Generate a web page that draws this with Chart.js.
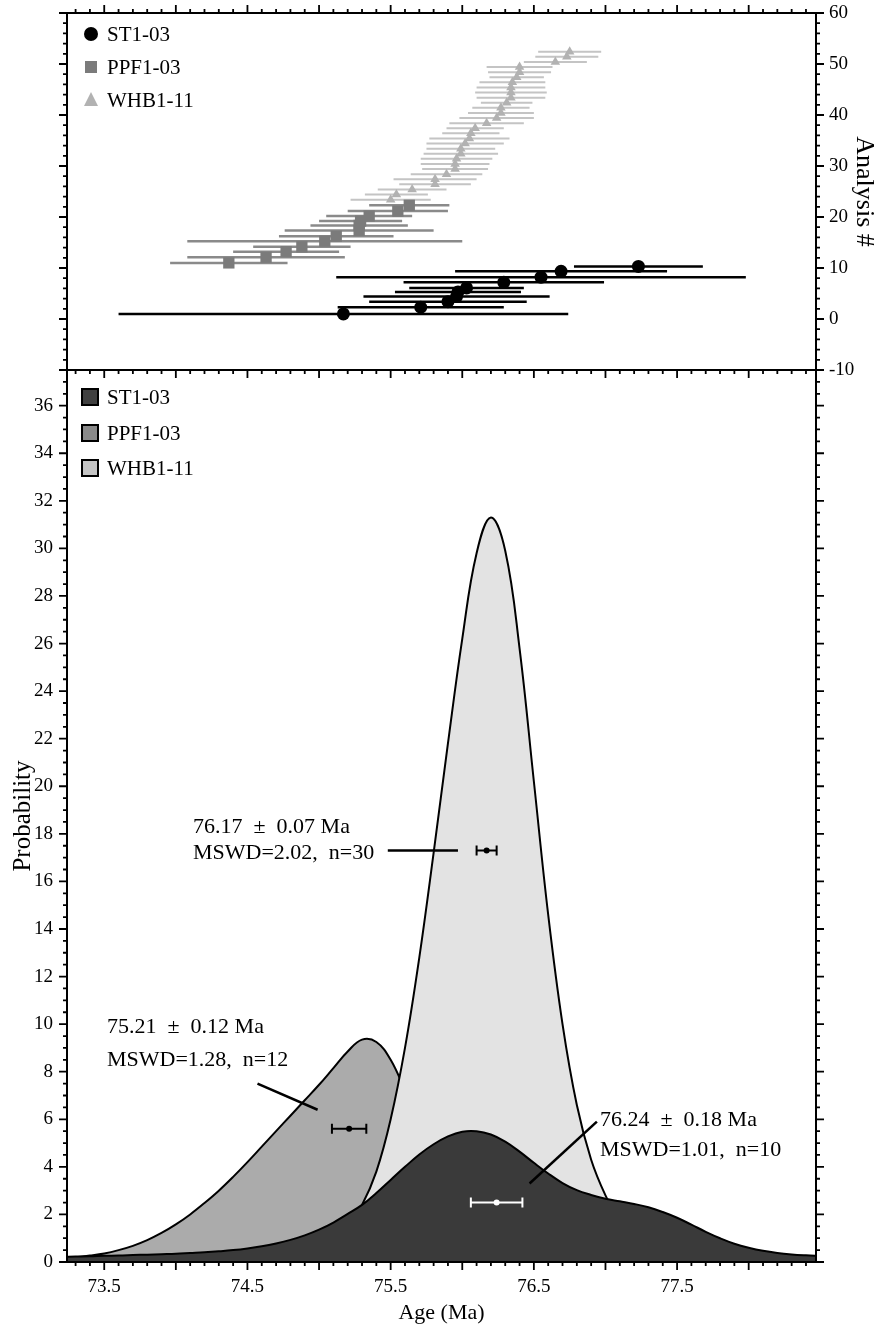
<!DOCTYPE html>
<html>
<head>
<meta charset="utf-8">
<script src="https://cdn.jsdelivr.net/npm/chart.js@4.4.1/dist/chart.umd.min.js"></script>
<style>
  html, body { margin: 0; padding: 0; background: #fff; }
  #wrap { position: relative; width: 879px; height: 1326px; overflow: hidden; }
  #top { position: absolute; left: 0; top: 0; }
  #bot { position: absolute; left: 0; top: 360px; }
</style>
</head>
<body>
<div id="wrap">
  <canvas id="top" width="879" height="382"></canvas>
  <canvas id="bot" width="879" height="966"></canvas>
</div>
<script>
// shared age axis (Ma)
const ageMin = 73.24, ageMax = 78.47;
const ageLabels = [73.5, 74.5, 75.5, 76.5, 77.5];
const analysisLabels = [-10, 0, 10, 20, 30, 40, 50, 60];
const probLabels = [0, 2, 4, 6, 8, 10, 12, 14, 16, 18, 20, 22, 24, 26, 28, 30, 32, 34, 36];
const samples = ['ST1-03', 'PPF1-03', 'WHB1-11'];

// top panel - single analyses (age, error, analysis #)
const stAge = [75.17, 75.71, 75.90, 75.96, 75.97, 76.03, 76.29, 76.55, 76.69, 77.23];
const stErr = [1.57, 0.58, 0.55, 0.65, 0.44, 0.40, 0.70, 1.43, 0.74, 0.45];
const stNo = [1.0, 2.3, 3.4, 4.4, 5.3, 6.1, 7.2, 8.2, 9.35, 10.3];

const ppfAge = [74.37, 74.63, 74.77, 74.88, 75.04, 75.12, 75.28, 75.28, 75.29, 75.35, 75.55, 75.63];
const ppfErr = [0.41, 0.55, 0.37, 0.34, 0.96, 0.40, 0.52, 0.34, 0.29, 0.30, 0.35, 0.28];
const ppfNo = [11.0, 12.1, 13.2, 14.15, 15.26, 16.24, 17.36, 18.35, 19.2, 20.2, 21.16, 22.3];

const whbAge = [76.75, 76.73, 76.65, 76.40, 76.40, 76.38, 76.35, 76.34, 76.34, 76.34, 76.31, 76.27, 76.27, 76.24, 76.17,
                76.09, 76.06, 76.05, 76.02, 75.99, 75.99, 75.96, 75.95, 75.95, 75.89, 75.81, 75.81, 75.65, 75.54, 75.50];
const whbErr = [0.22, 0.22, 0.22, 0.23, 0.22, 0.19, 0.23, 0.24, 0.25, 0.24, 0.18, 0.20, 0.23, 0.26, 0.26,
                0.20, 0.20, 0.28, 0.27, 0.24, 0.26, 0.25, 0.24, 0.23, 0.25, 0.29, 0.25, 0.24, 0.22, 0.28];
const whbNo = [52.4, 51.4, 50.4, 49.4, 48.4, 47.4, 46.4, 45.4, 44.4, 43.4, 42.4, 41.4, 40.4, 39.4, 38.4,
               37.4, 36.4, 35.4, 34.4, 33.4, 32.4, 31.4, 30.4, 29.4, 28.4, 27.4, 26.4, 25.4, 24.4, 23.4];

// bottom panel - probability density curves
const probAge = [73.2, 73.3, 73.4, 73.5, 73.6, 73.7, 73.8, 73.9, 74.0, 74.1, 74.2, 74.3, 74.4, 74.5, 74.6, 74.7, 74.8, 74.9,
                 75.0, 75.1, 75.2, 75.3, 75.4, 75.5, 75.6, 75.7, 75.8, 75.9, 76.0, 76.1, 76.2, 76.3, 76.4, 76.5, 76.6, 76.7,
                 76.8, 76.9, 77.0, 77.1, 77.2, 77.3, 77.4, 77.5, 77.6, 77.7, 77.8, 77.9, 78.0, 78.1, 78.2, 78.3, 78.4, 78.5];
const probST = [0.22, 0.23, 0.24, 0.26, 0.27, 0.29, 0.31, 0.33, 0.35, 0.38, 0.41, 0.45, 0.50, 0.57, 0.66, 0.78, 0.93, 1.12,
                1.36, 1.66, 2.02, 2.40, 2.90, 3.45, 4.00, 4.52, 4.95, 5.28, 5.48, 5.50, 5.36, 5.06, 4.64, 4.17, 3.72, 3.32,
                3.02, 2.82, 2.66, 2.55, 2.44, 2.30, 2.10, 1.86, 1.57, 1.27, 1.00, 0.77, 0.60, 0.47, 0.38, 0.32, 0.28, 0.25];
const probPPF = [0.15, 0.20, 0.27, 0.36, 0.50, 0.68, 0.92, 1.22, 1.58, 2.00, 2.48, 3.00, 3.58, 4.20, 4.85, 5.50, 6.15, 6.80,
                 7.45, 8.15, 8.85, 9.35, 9.25, 8.50, 7.20, 5.70, 4.20, 2.90, 1.90, 1.15, 0.70, 0.42, 0.28, 0.20, 0.15, 0.12,
                 0.10, 0.08, 0.07, 0.06, 0.05, 0.05, 0.04, 0.04, 0.03, 0.03, 0.03, 0.02, 0.02, 0.02, 0.02, 0.02, 0.02, 0.02];
const probWHB = [0, 0, 0, 0, 0, 0, 0, 0, 0, 0, 0, 0, 0.01, 0.02, 0.04, 0.08, 0.15, 0.28,
                 0.5, 0.9, 1.5, 2.4, 3.8, 6.0, 9.0, 12.8, 17.2, 21.8, 26.2, 29.8, 31.3, 29.9, 25.8, 20.2, 14.6, 10.0,
                 6.6, 4.3, 2.8, 1.7, 1.0, 0.55, 0.3, 0.15, 0.08, 0.04, 0.02, 0.01, 0, 0, 0, 0, 0, 0];

// weighted mean ages shown in the lower panel (ST1-03, PPF1-03, WHB1-11)
const meanAge = [76.24, 75.21, 76.17];
const meanErr = [0.18, 0.12, 0.07];
const meanLevel = [2.5, 5.6, 17.3];
const meanText = [
  ['76.24  \u00b1  0.18 Ma', 'MSWD=1.01,  n=10'],
  ['75.21  \u00b1  0.12 Ma', 'MSWD=1.28,  n=12'],
  ['76.17  \u00b1  0.07 Ma', 'MSWD=2.02,  n=30']
];

const serif = '"Liberation Serif", "Times New Roman", serif';
const range = (a, b, s) => { const r = []; for (let v = a; v <= b + 1e-9; v += s) r.push(Math.round(v * 100) / 100); return r; };
const near = (v, s) => Math.abs(v / s - Math.round(v / s)) < 1e-6;
const noPad = s => { s.paddingTop = 0; s.paddingBottom = 0; s.paddingLeft = 0; s.paddingRight = 0; };

function edgeTicks(chart, axis, values, majorStep, edge, dir) {
  const ctx = chart.ctx, a = chart.chartArea, s = chart.scales[axis];
  ctx.save();
  ctx.strokeStyle = '#000';
  ctx.lineWidth = 1.8;
  ctx.beginPath();
  values.forEach(v => {
    const p = s.getPixelForValue(v);
    const len = near(v, majorStep) ? 8 : 4;
    if (axis === 'x') { ctx.moveTo(p, a[edge]); ctx.lineTo(p, a[edge] + dir * len); }
    else { ctx.moveTo(a[edge], p); ctx.lineTo(a[edge] + dir * len, p); }
  });
  ctx.stroke();
  ctx.restore();
}

function frame(chart) {
  const ctx = chart.ctx, a = chart.chartArea;
  ctx.save();
  ctx.strokeStyle = '#000';
  ctx.lineWidth = 2;
  ctx.strokeRect(a.left, a.top, a.right - a.left, a.bottom - a.top);
  ctx.restore();
}

const xTicks = range(73.3, 78.4, 0.1);

// ---------- top panel ----------
const toPoints = (ages, nos) => ages.map((a, i) => ({ x: a, y: nos[i] }));
const toBars = (ages, errs, nos) => ages.flatMap((a, i) => [
  { x: a - errs[i], y: nos[i] }, { x: a + errs[i], y: nos[i] }, { x: a + errs[i], y: null }
]);

const markerStyle = [
  { pointStyle: 'circle', pointRadius: 6.5, color: '#000000', bar: '#000000', barWidth: 2.5 },
  { pointStyle: 'rect', pointRadius: 8, color: '#7b7b7b', bar: '#8a8a8a', barWidth: 2.5 },
  { pointStyle: 'triangle', pointRadius: 5.5, color: '#b2b2b2', bar: '#c4c4c4', barWidth: 2 }
];
const topSets = [[stAge, stErr, stNo], [ppfAge, ppfErr, ppfNo], [whbAge, whbErr, whbNo]];
const topDatasets = [];
topSets.forEach(([ages, errs, nos], k) => {
  const m = markerStyle[k];
  topDatasets.push({ label: samples[k], data: toPoints(ages, nos), pointStyle: m.pointStyle, pointRadius: m.pointRadius,
    backgroundColor: m.color, borderColor: m.color, borderWidth: 0, showLine: false });
  topDatasets.push({ label: samples[k] + ' error', data: toBars(ages, errs, nos), showLine: true, spanGaps: false,
    borderColor: m.bar, borderWidth: m.barWidth, pointRadius: 0 });
});

const topDecor = {
  id: 'topDecor',
  afterDraw(chart) {
    frame(chart);
    const yT = range(-10, 60, 2);
    edgeTicks(chart, 'x', xTicks, 0.5, 'top', -1);
    edgeTicks(chart, 'y', yT, 10, 'left', -1);
    edgeTicks(chart, 'y', yT, 10, 'right', 1);
    // legend
    const ctx = chart.ctx;
    ctx.save();
    ctx.font = '21px ' + serif;
    ctx.textBaseline = 'middle';
    const ly = [34, 67, 100];
    samples.forEach((s, k) => {
      const m = markerStyle[k];
      ctx.fillStyle = m.color;
      ctx.beginPath();
      if (k === 0) ctx.arc(91, ly[k], 7, 0, Math.PI * 2);
      else if (k === 1) ctx.rect(85, ly[k] - 6, 12, 12);
      else { ctx.moveTo(91, ly[k] - 8); ctx.lineTo(98, ly[k] + 6); ctx.lineTo(84, ly[k] + 6); ctx.closePath(); }
      ctx.fill();
      ctx.fillStyle = '#000';
      ctx.fillText(s, 107, ly[k] + 1);
    });
    ctx.restore();
  }
};

new Chart(document.getElementById('top'), {
  type: 'scatter',
  data: { datasets: topDatasets },
  options: {
    responsive: false, animation: false, events: [],
    layout: { padding: { top: 13, left: 67, right: 0, bottom: 12 } },
    plugins: { legend: { display: false }, tooltip: { enabled: false } },
    scales: {
      x: { type: 'linear', min: ageMin, max: ageMax, display: false },
      y: {
        type: 'linear', position: 'right', min: -10, max: 60,
        afterBuildTicks: s => { s.ticks = analysisLabels.map(v => ({ value: v })); },
        afterFit: s => { s.width = 63; noPad(s); },
        grid: { display: false, drawTicks: false }, border: { display: false },
        ticks: { padding: 13, color: '#000', font: { family: serif, size: 19 } },
        title: { display: true, text: 'Analysis #', color: '#000', font: { family: serif, size: 26 }, padding: { top: 0 } }
      }
    }
  },
  plugins: [topDecor]
});

// ---------- bottom panel ----------
const fillColor = ['#3a3a3a', '#ababab', '#e3e3e3'];
const legendColor = ['#404040', '#8a8a8a', '#c4c4c4'];
const curveOrder = [0, 2, 1];
const curves = [probST, probPPF, probWHB];
const curveSets = curves.map((vals, k) => ({
  label: samples[k],
  data: probAge.map((a, i) => ({ x: a, y: vals[i] })),
  showLine: true, fill: 'origin', order: curveOrder[k],
  backgroundColor: fillColor[k], borderColor: '#000', borderWidth: 2,
  pointRadius: 0, tension: 0.4
}));

// leader lines [fromAge, fromProb, toAge, toProb] and text anchors (page px)
const leader = [[76.47, 3.3, 76.94, 5.9], [74.57, 7.5, 74.99, 6.4], [75.48, 17.3, 75.97, 17.3]];
const textPos = [[600, 1120, 1150], [107, 1027, 1060], [193, 827, 853]];
const barColor = ['#ffffff', '#000000', '#000000'];

const botDecor = {
  id: 'botDecor',
  afterDatasetsDraw(chart) {
    const ctx = chart.ctx, x = chart.scales.x, y = chart.scales.y;
    const off = 360;
    ctx.save();
    meanAge.forEach((age, i) => {
      const yy = y.getPixelForValue(meanLevel[i]);
      const x1 = x.getPixelForValue(age - meanErr[i]), x2 = x.getPixelForValue(age + meanErr[i]);
      ctx.strokeStyle = barColor[i];
      ctx.fillStyle = barColor[i];
      ctx.lineWidth = 2;
      ctx.beginPath();
      ctx.moveTo(x1, yy); ctx.lineTo(x2, yy);
      ctx.moveTo(x1, yy - 5); ctx.lineTo(x1, yy + 5);
      ctx.moveTo(x2, yy - 5); ctx.lineTo(x2, yy + 5);
      ctx.stroke();
      ctx.beginPath();
      ctx.arc(x.getPixelForValue(age), yy, 3, 0, Math.PI * 2);
      ctx.fill();
      // leader
      const L = leader[i];
      ctx.strokeStyle = '#000';
      ctx.lineWidth = 2.5;
      ctx.beginPath();
      ctx.moveTo(x.getPixelForValue(L[0]), y.getPixelForValue(L[1]));
      ctx.lineTo(x.getPixelForValue(L[2]), y.getPixelForValue(L[3]));
      ctx.stroke();
      // text
      ctx.fillStyle = '#000';
      ctx.font = '22px ' + serif;
      ctx.textBaseline = 'middle';
      ctx.fillText(meanText[i][0], textPos[i][0], textPos[i][1] - off);
      ctx.fillText(meanText[i][1], textPos[i][0], textPos[i][2] - off);
    });
    ctx.restore();
  },
  afterDraw(chart) {
    frame(chart);
    const yT = range(0, 37.5, 0.5);
    edgeTicks(chart, 'x', xTicks, 0.5, 'bottom', 1);
    edgeTicks(chart, 'x', xTicks, 0.5, 'top', 1);
    edgeTicks(chart, 'y', yT, 2, 'left', -1);
    edgeTicks(chart, 'y', yT, 2, 'right', 1);
    // legend
    const ctx = chart.ctx;
    ctx.save();
    ctx.font = '21px ' + serif;
    ctx.textBaseline = 'middle';
    const ly = [37, 73, 108];
    samples.forEach((s, k) => {
      ctx.fillStyle = legendColor[k];
      ctx.fillRect(82, ly[k] - 8, 16, 16);
      ctx.strokeStyle = '#000';
      ctx.lineWidth = 2;
      ctx.strokeRect(82, ly[k] - 8, 16, 16);
      ctx.fillStyle = '#000';
      ctx.fillText(s, 107, ly[k] + 1);
    });
    ctx.restore();
  }
};

new Chart(document.getElementById('bot'), {
  type: 'scatter',
  data: { datasets: curveSets },
  options: {
    responsive: false, animation: false, events: [],
    layout: { padding: { top: 10, left: 0, right: 63, bottom: 0 } },
    plugins: { legend: { display: false }, tooltip: { enabled: false } },
    scales: {
      x: {
        type: 'linear', min: ageMin, max: ageMax,
        afterBuildTicks: s => { s.ticks = ageLabels.map(v => ({ value: v })); },
        afterFit: s => { s.height = 64; noPad(s); },
        grid: { display: false, drawTicks: false }, border: { display: false },
        ticks: { padding: 14, color: '#000', font: { family: serif, size: 19 }, callback: v => v.toFixed(1), maxRotation: 0 },
        title: { display: true, text: 'Age (Ma)', color: '#000', font: { family: serif, size: 22 }, padding: { bottom: 0 } }
      },
      y: {
        type: 'linear', min: 0, max: 37.5,
        afterBuildTicks: s => { s.ticks = probLabels.map(v => ({ value: v })); },
        afterFit: s => { s.width = 67; noPad(s); },
        grid: { display: false, drawTicks: false }, border: { display: false },
        ticks: { padding: 14, color: '#000', font: { family: serif, size: 19 } },
        title: { display: true, text: 'Probability', color: '#000', font: { family: serif, size: 25 }, padding: { top: 8 } }
      }
    }
  },
  plugins: [botDecor]
});
</script>
</body>
</html>
